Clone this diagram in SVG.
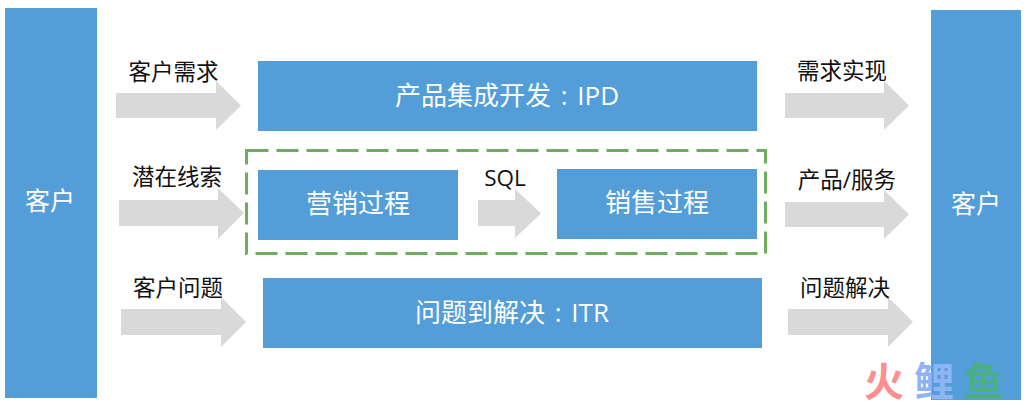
<svg xmlns="http://www.w3.org/2000/svg" width="1030" height="408" viewBox="0 0 1030 408">
<style>
text{font-family:"Open Sans","Noto Sans CJK SC",sans-serif;text-anchor:middle}
.box{fill:#539dd8}
.arr{fill:#d9d9d9}
.w{fill:#fff}
.w24{font-size:25px}
.w26{font-size:26px;word-spacing:3px}
.k{fill:#111;font-size:22.500px}
</style>
<rect width="1030" height="408" fill="#fff"/>
<g id="connectors">
<path class="arr" d="M116 93H216V81L241 105.500L216 130V118H116Z"/>
<path class="arr" d="M119 200H218V188L244 213L218 239V226H119Z"/>
<path class="arr" d="M121 309H221V297L246 322L221 347V335H121Z"/>
<path class="arr" d="M478 200H515V189L541 213.500L515 238V226H478Z"/>
<path class="arr" d="M785 93H884V81L909 105.500L884 130V118H785Z"/>
<path class="arr" d="M785 202H884V190L909 214.500L884 239V227H785Z"/>
<path class="arr" d="M788 309H888V297L913 322L888 347V335H788Z"/>
</g>
<g id="group-marketing-sales"><rect x="246.500" y="150.500" width="519" height="103" fill="none" stroke="#70ab62" stroke-width="3" stroke-dasharray="22 8"/></g>
<g id="customer-left"><rect class="box" x="5" y="8" width="92" height="390"/><text class="w w24" x="50" y="210">客户</text></g>
<g id="customer-right"><rect class="box" x="931" y="10" width="90" height="390"/><text class="w w24" x="976" y="213">客户</text></g>
<g id="ipd"><rect class="box" x="258" y="61" width="499" height="70"/><text class="w w26" x="507" y="105">产品集成开发 : IPD</text></g>
<g id="marketing"><rect class="box" x="258" y="170" width="200" height="70"/><text class="w w26" x="358" y="213">营销过程</text></g>
<g id="sales"><rect class="box" x="557" y="169" width="200" height="70"/><text class="w w26" x="657" y="212">销售过程</text></g>
<g id="itr"><rect class="box" x="263" y="278" width="499" height="70"/><text class="w w26" x="512" y="322">问题到解决 : ITR</text></g>
<g id="labels">
<text class="k" x="173.500" y="80">客户需求</text>
<text class="k" x="177" y="185">潜在线索</text>
<text class="k" x="178" y="296">客户问题</text>
<text class="k" x="505" y="186">SQL</text>
<text class="k" x="842" y="79">需求实现</text>
<text class="k" x="847" y="188">产品/服务</text>
<text class="k" x="845" y="296">问题解决</text>
</g>
<g id="watermark" font-size="40" font-weight="700">
<text x="884" y="396" fill="#fe8f8f">火</text>
<text x="934" y="396" fill="#8fb4f5">鲤</text>
<text x="984" y="396" fill="#4caf83">鱼</text>
</g>
</svg>
